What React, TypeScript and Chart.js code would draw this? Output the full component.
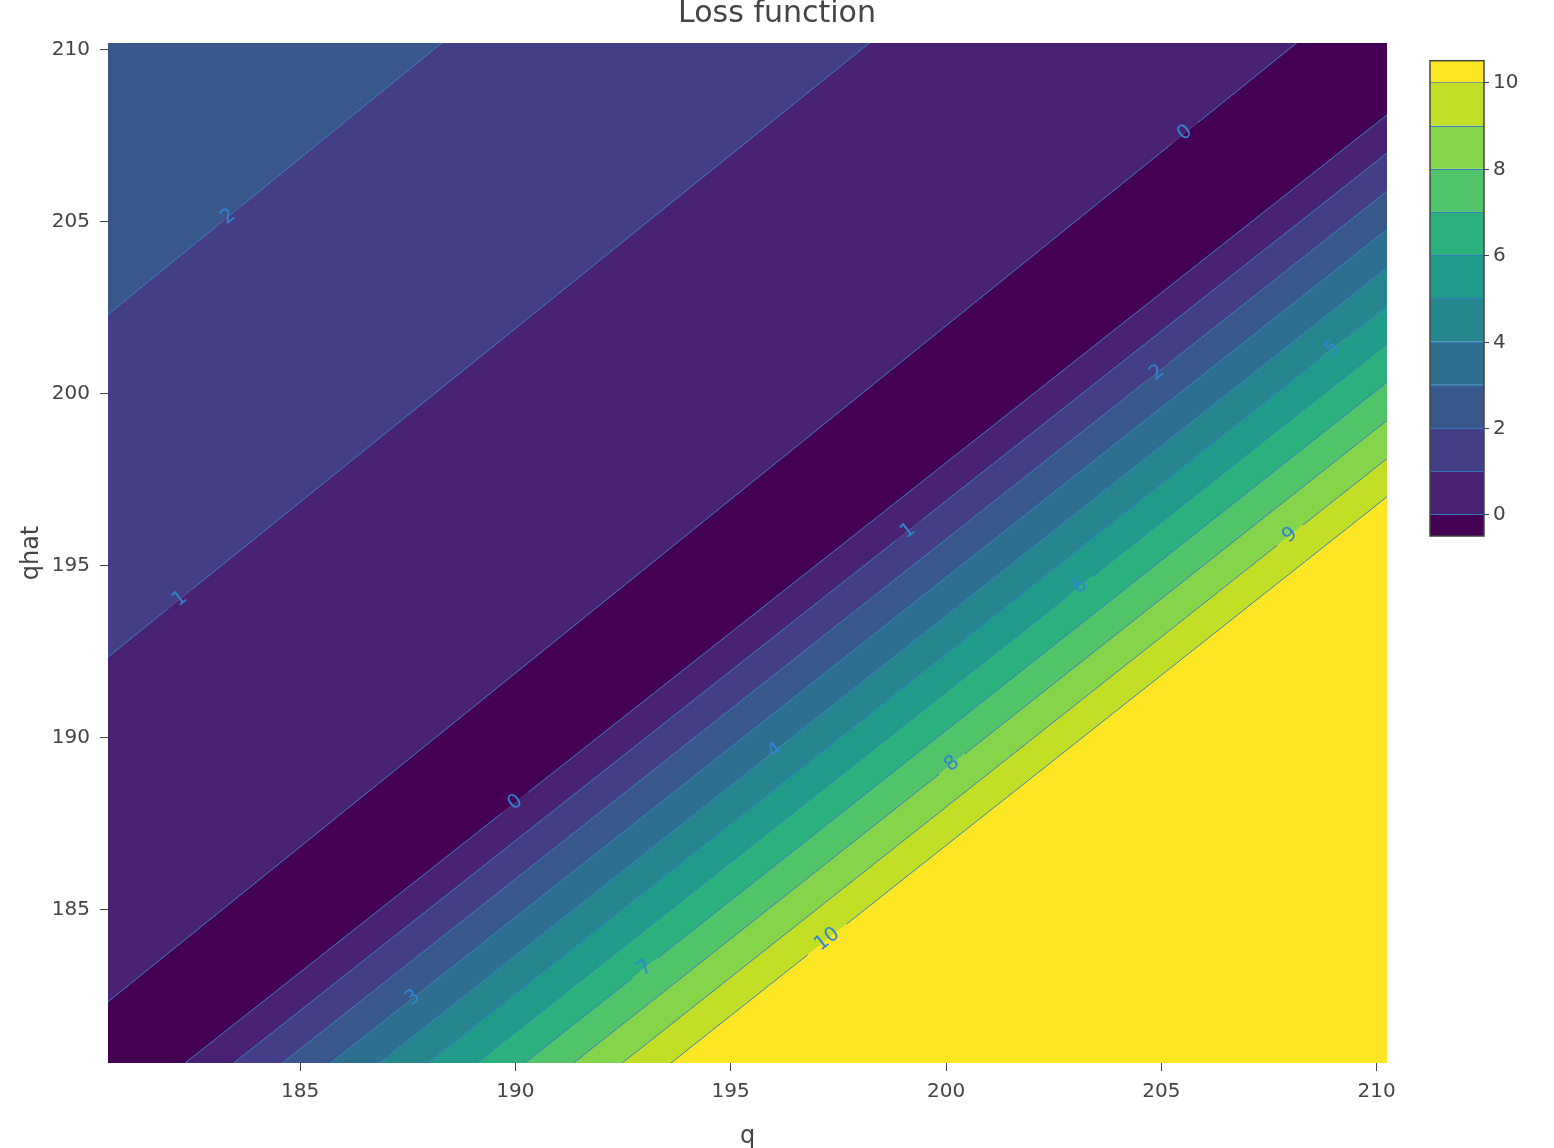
import React, { useEffect, useRef } from 'react';
import { Chart, registerables } from 'chart.js';

Chart.register(...registerables);

const FONT = '"DejaVu Sans", Verdana, sans-serif';

const chartTitle = 'Loss function';
const xAxisTitle = 'q';
const yAxisTitle = 'qhat';
const qLimits = [180.54, 210.24];
const qhatLimits = [180.55, 210.2];
const axisStep = 5;
const colorbarTicks = [0, 2, 4, 6, 8, 10];
const colorbarLimits = [-0.5, 10.5];
const colorbarLevels = [0, 1, 2, 3, 4, 5, 6, 7, 8, 9, 10];

// contour lines where qhat > q (top-left side), listed top to bottom
const overLevels = [2, 1, 0];
const overLeftQhat = [202.31, 192.35, 182.33]; // qhat where the contour meets q = qLimits[0]
const overTopQ = [188.29, 198.22, 208.14]; // q where the contour meets qhat = qhatLimits[1]
const overLabelQ = [183.33, 182.21, 205.55];

// contour lines where qhat < q (bottom-right side), listed top to bottom
const underLevels = [0, 1, 2, 3, 4, 5, 6, 7, 8, 9, 10];
const underBottomQ = [182.33, 183.46, 184.59, 185.71, 186.84, 187.97, 189.1, 190.22, 191.35, 192.48, 193.61]; // q at qhat = qhatLimits[0]
const underRightQhat = [208.11, 207.0, 205.89, 204.78, 203.67, 202.56, 201.45, 200.34, 199.23, 198.12, 197.01]; // qhat at q = qLimits[1]
const underLabelQ = [190.0, 199.12, 204.9, 187.62, 196.03, 208.98, 203.11, 193.01, 200.14, 207.99, 197.24];

const viridis12 = [
  '#440154', '#482172', '#433e85', '#38588c', '#2d6f8e', '#25868e',
  '#209b89', '#2bb07e', '#51c469', '#86d44a', '#c2df25', '#fde725',
];

const LINE_COLOR = 'rgba(52,122,192,0.95)';
const LABEL_COLOR = '#2f86cf';
const TEXT_COLOR = '#444';

type Contour = { level: number; p1: [number, number]; p2: [number, number]; labelQ: number };

const contours: Contour[] = [
  ...overLevels.map((level, i) => ({
    level,
    p1: [qLimits[0], overLeftQhat[i]] as [number, number],
    p2: [overTopQ[i], qhatLimits[1]] as [number, number],
    labelQ: overLabelQ[i],
  })),
  ...underLevels.map((level, i) => ({
    level,
    p1: [underBottomQ[i], qhatLimits[0]] as [number, number],
    p2: [qLimits[1], underRightQhat[i]] as [number, number],
    labelQ: underLabelQ[i],
  })),
];

function qhatOn(c: Contour, q: number) {
  const s = (c.p2[1] - c.p1[1]) / (c.p2[0] - c.p1[0]);
  return c.p1[1] + (q - c.p1[0]) * s;
}

function contourLineData(c: Contour) {
  const [a, b] = qLimits;
  const gap = String(c.level).length > 1 ? 0.45 : 0.3;
  return [
    { x: a, y: qhatOn(c, a) },
    { x: c.labelQ - gap, y: qhatOn(c, c.labelQ - gap) },
    { x: c.labelQ, y: null as any },
    { x: c.labelQ + gap, y: qhatOn(c, c.labelQ + gap) },
    { x: b, y: qhatOn(c, b) },
  ];
}

function fullLineData(c: Contour) {
  const [a, b] = qLimits;
  return [
    { x: a, y: qhatOn(c, a) },
    { x: b, y: qhatOn(c, b) },
  ];
}

function buildDatasets() {
  const ds: any[] = [];
  contours.forEach((c) => {
    ds.push({
      data: contourLineData(c),
      borderColor: LINE_COLOR,
      borderWidth: 1,
      pointRadius: 0,
      fill: false,
      spanGaps: false,
    });
  });
  ds.push({
    data: fullLineData(contours[0]),
    borderColor: 'rgba(0,0,0,0)',
    borderWidth: 0,
    pointRadius: 0,
    backgroundColor: viridis12[contours[0].level + 1],
    fill: 'end',
  });
  contours.forEach((c, i) => {
    let color: string;
    let fill: any;
    if (i < contours.length - 1) {
      const n = contours[i + 1];
      const idx = c.level === n.level ? c.level : Math.max(c.level, n.level);
      color = viridis12[idx];
      fill = '+1';
    } else {
      color = viridis12[c.level + 1];
      fill = 'start';
    }
    ds.push({
      data: fullLineData(c),
      borderColor: color,
      borderWidth: 0.5,
      pointRadius: 0,
      backgroundColor: color,
      fill,
    });
  });
  return ds;
}

const decorPlugin = {
  id: 'decor',
  afterDatasetsDraw(chart: any) {
    const { ctx } = chart;
    const xs = chart.scales.x;
    const ys = chart.scales.y;
    ctx.save();
    ctx.font = `20px ${FONT}`;
    ctx.fillStyle = LABEL_COLOR;
    ctx.textAlign = 'center';
    ctx.textBaseline = 'middle';
    contours.forEach((c) => {
      const q = c.labelQ;
      const px = xs.getPixelForValue(q);
      const py = ys.getPixelForValue(qhatOn(c, q));
      const px2 = xs.getPixelForValue(q + 1);
      const py2 = ys.getPixelForValue(qhatOn(c, q + 1));
      const ang = Math.atan2(py2 - py, px2 - px);
      ctx.save();
      ctx.translate(px, py);
      ctx.rotate(ang);
      ctx.fillText(String(c.level), 0, 0);
      ctx.restore();
    });
    ctx.restore();
  },
  afterDraw(chart: any) {
    const { ctx, width } = chart;
    ctx.save();
    ctx.font = `30px ${FONT}`;
    ctx.fillStyle = TEXT_COLOR;
    ctx.textAlign = 'center';
    ctx.textBaseline = 'alphabetic';
    ctx.fillText(chartTitle, width / 2, 21.5);

    const cbLeft = 1430;
    const cbRight = 1484;
    const cbTop = 60.7;
    const cbBottom = 536;
    const [vmin, vmax] = colorbarLimits;
    const cy = (v: number) => cbBottom - ((v - vmin) / (vmax - vmin)) * (cbBottom - cbTop);
    const bounds = [vmin, ...colorbarLevels, vmax];
    for (let i = 0; i < bounds.length - 1; i++) {
      const y0 = cy(bounds[i]);
      const y1 = cy(bounds[i + 1]);
      ctx.fillStyle = viridis12[i];
      ctx.fillRect(cbLeft, y1, cbRight - cbLeft, y0 - y1);
    }
    ctx.lineWidth = 1;
    colorbarLevels.forEach((v) => {
      const y = Math.round(cy(v)) + 0.5;
      ctx.strokeStyle = v === colorbarLevels[colorbarLevels.length - 1] ? 'rgba(120,140,150,0.9)' : LINE_COLOR;
      ctx.beginPath();
      ctx.moveTo(cbLeft, y);
      ctx.lineTo(cbRight, y);
      ctx.stroke();
    });
    ctx.strokeStyle = TEXT_COLOR;
    ctx.lineWidth = 1.5;
    ctx.strokeRect(cbLeft, cbTop, cbRight - cbLeft, cbBottom - cbTop);
    ctx.font = `20px ${FONT}`;
    ctx.fillStyle = TEXT_COLOR;
    ctx.textAlign = 'left';
    ctx.textBaseline = 'middle';
    ctx.lineWidth = 1;
    colorbarTicks.forEach((v) => {
      const y = Math.round(cy(v)) + 0.5;
      ctx.beginPath();
      ctx.moveTo(cbRight, y);
      ctx.lineTo(cbRight + 5, y);
      ctx.stroke();
      ctx.fillText(String(v), cbRight + 9, y);
    });
    ctx.restore();
  },
};

export default function App() {
  const ref = useRef<HTMLCanvasElement>(null);
  useEffect(() => {
    const canvas = ref.current;
    if (!canvas) return;
    const chart = new Chart(canvas, {
      type: 'line',
      data: { datasets: buildDatasets() },
      plugins: [decorPlugin],
      options: {
        responsive: false,
        animation: false,
        devicePixelRatio: 1,
        layout: { padding: { left: 0, right: 167, top: 43, bottom: 0 } },
        elements: { point: { radius: 0 }, line: { tension: 0 } },
        plugins: {
          legend: { display: false },
          tooltip: { enabled: false },
          title: { display: false },
          filler: { propagate: false },
        },
        scales: {
          x: {
            type: 'linear',
            min: qLimits[0],
            max: qLimits[1],
            afterFit: (s: any) => {
              s.height = 85;
            },
            ticks: {
              stepSize: axisStep,
              includeBounds: false,
              color: TEXT_COLOR,
              font: { family: FONT, size: 20 },
              padding: 9,
              maxRotation: 0,
            },
            grid: { drawOnChartArea: false, tickLength: 8, tickColor: TEXT_COLOR, tickWidth: 1 },
            border: { display: false },
            title: {
              display: true,
              text: xAxisTitle,
              color: TEXT_COLOR,
              font: { family: FONT, size: 24 },
              padding: { top: 0, bottom: -3 },
            },
          },
          y: {
            type: 'linear',
            min: qhatLimits[0],
            max: qhatLimits[1],
            afterFit: (s: any) => {
              s.width = 108;
            },
            ticks: {
              stepSize: axisStep,
              includeBounds: false,
              color: TEXT_COLOR,
              font: { family: FONT, size: 20 },
              padding: 10,
            },
            grid: { drawOnChartArea: false, tickLength: 8, tickColor: TEXT_COLOR, tickWidth: 1 },
            border: { display: false },
            title: {
              display: true,
              text: yAxisTitle,
              color: TEXT_COLOR,
              font: { family: FONT, size: 24 },
              padding: { top: 17, bottom: 0 },
            },
          },
        },
      } as any,
    });
    return () => chart.destroy();
  }, []);
  return (
    <div style={{ position: 'absolute', left: 0, top: 0, width: 1554, height: 1148, background: '#fff' }}>
      <canvas ref={ref} width={1554} height={1148} style={{ display: 'block', width: 1554, height: 1148 }} />
    </div>
  );
}
